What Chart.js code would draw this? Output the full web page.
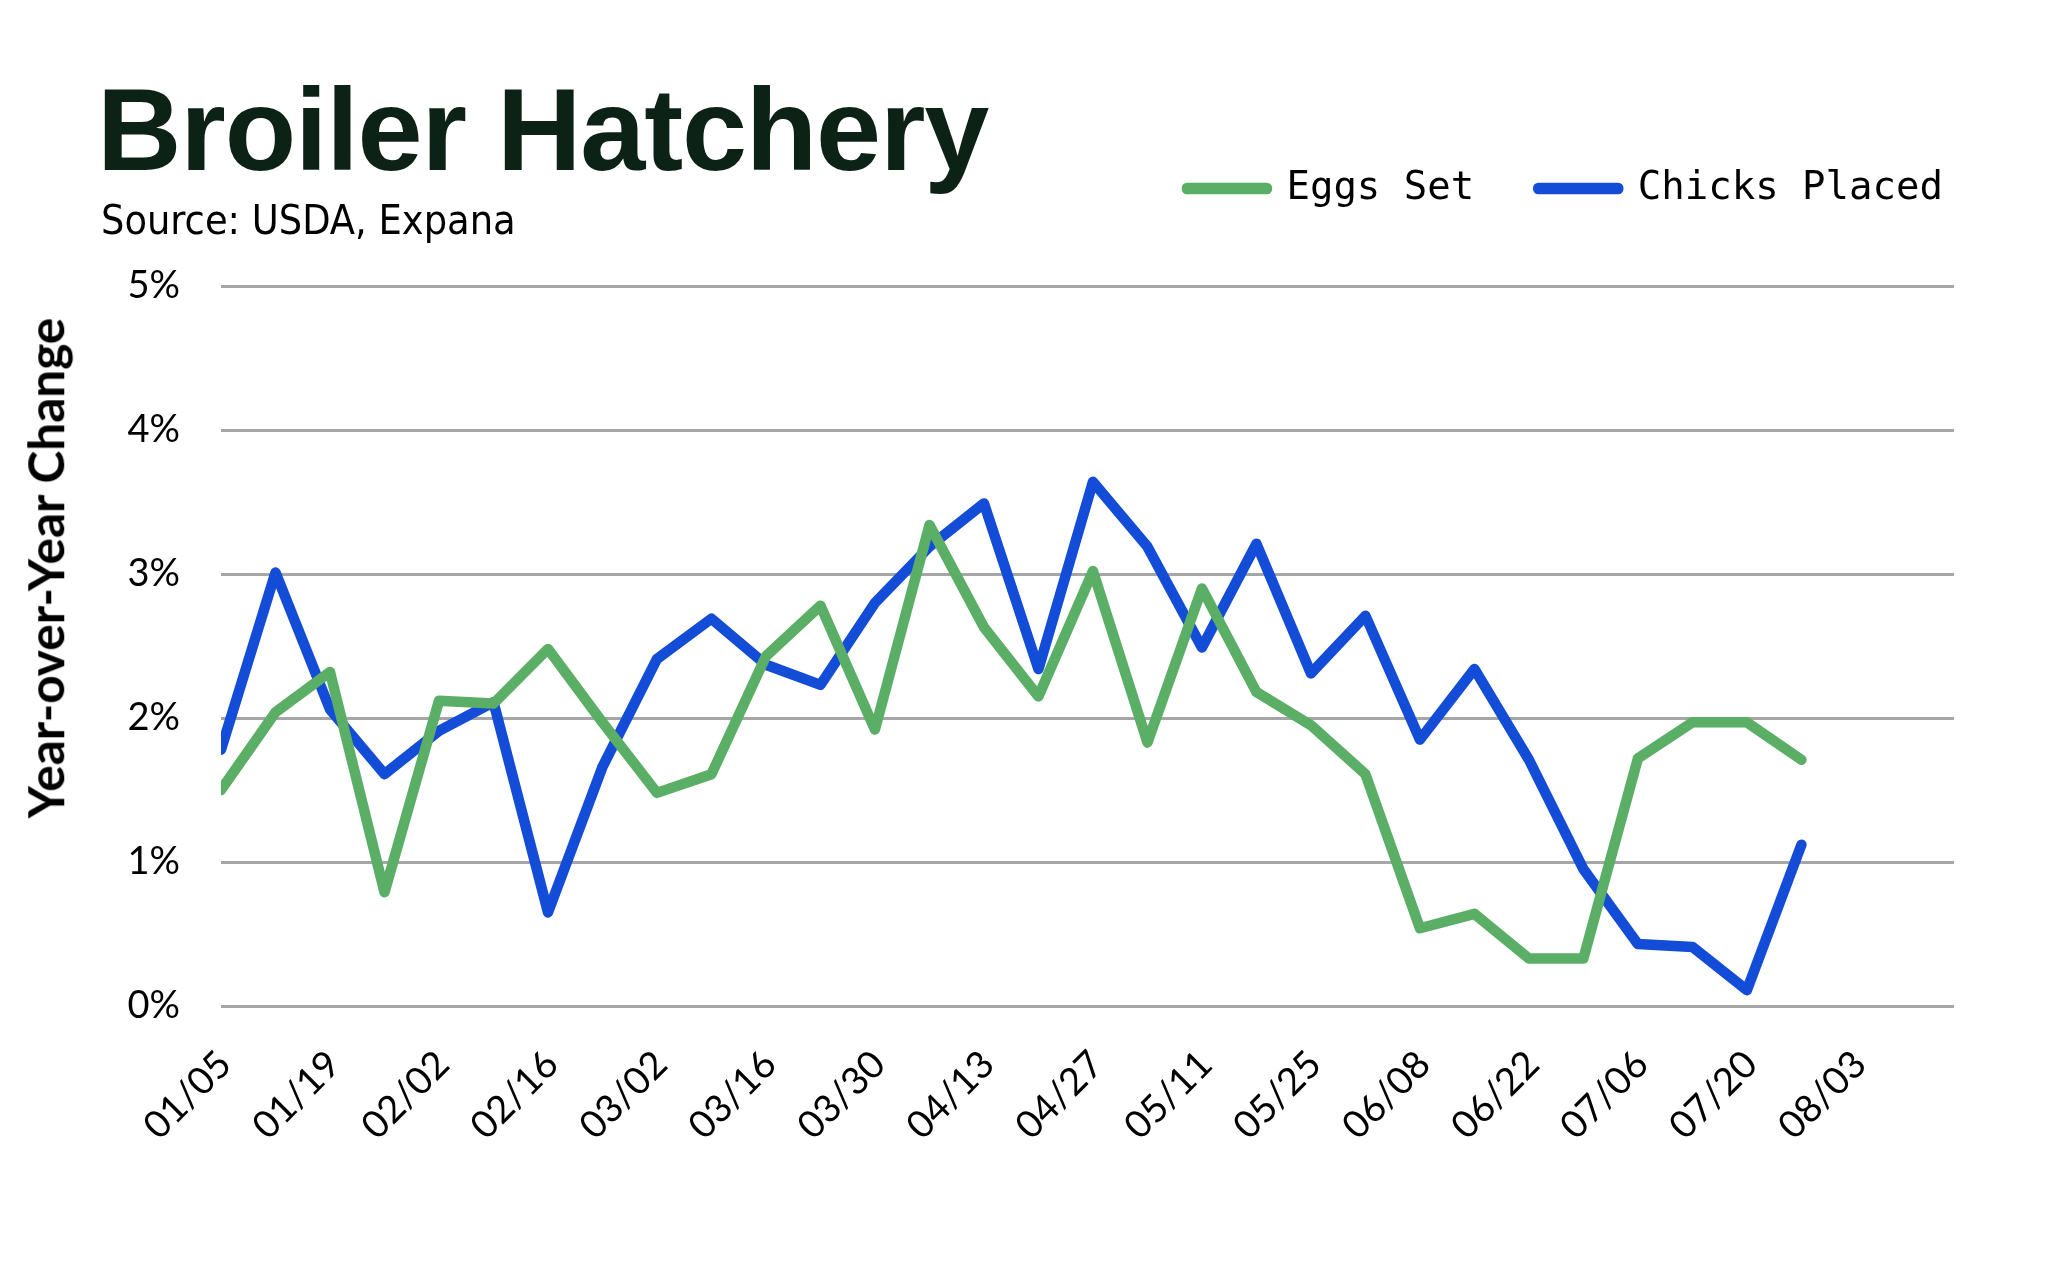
<!DOCTYPE html>
<html>
<head>
<meta charset="utf-8">
<script src="https://cdn.jsdelivr.net/npm/chart.js@4.4.1/dist/chart.umd.min.js"></script>
<style>
  html, body { margin: 0; padding: 0; background: #ffffff; }
  #wrap { position: relative; width: 2050px; height: 1287px; overflow: hidden; background: #fff; }
  #chartBox { position: absolute; left: 0; top: 0; width: 2050px; height: 1287px; }
  #title { position: absolute; left: 97px; top: 71px; font-family: "Liberation Sans", Arial, sans-serif; font-weight: bold; font-size: 117px; line-height: 1; letter-spacing: -1.2px; color: #0d2216; white-space: nowrap; }
  #source { position: absolute; left: 101px; top: 200px; font-family: "DejaVu Sans Condensed", "DejaVu Sans", sans-serif; font-stretch: condensed; font-size: 41px; line-height: 1; color: #000; white-space: nowrap; }
  #ytitle { position: absolute; left: 46px; top: 568px; transform: translate(-50%, -50%) rotate(-90deg); font-family: "Lato", sans-serif; font-weight: bold; font-size: 49.5px; line-height: 1; color: #000; white-space: nowrap; }
</style>
</head>
<body>
<div id="wrap">
  <div id="chartBox"><canvas id="c"></canvas></div>
  <div id="title">Broiler Hatchery</div>
  <div id="source">Source: USDA, Expana</div>
  <div id="ytitle">Year-over-Year Change</div>
</div>
<script>
// Weekly dates (category labels)
const weeks = ["01/05","01/12","01/19","01/26","02/02","02/09","02/16","02/23","03/02","03/09",
  "03/16","03/23","03/30","04/06","04/13","04/20","04/27","05/04","05/11","05/18",
  "05/25","06/01","06/08","06/15","06/22","06/29","07/06","07/13","07/20","07/27","08/03"];

// Year-over-year change, percent
const eggsSet = [1.50, 2.04, 2.32, 0.79, 2.12, 2.10, 2.48, 1.97, 1.48, 1.61,
  2.43, 2.78, 1.92, 3.34, 2.63, 2.15, 3.02, 1.83, 2.90, 2.18,
  1.95, 1.61, 0.54, 0.64, 0.33, 0.33, 1.72, 1.97, 1.97, 1.71];
const chicksPlaced = [1.78, 3.01, 2.06, 1.61, 1.91, 2.11, 0.65, 1.66, 2.41, 2.69,
  2.37, 2.23, 2.80, 3.19, 3.49, 2.34, 3.64, 3.19, 2.49, 3.21,
  2.31, 2.71, 1.85, 2.34, 1.71, 0.95, 0.43, 0.41, 0.11, 1.12];

const yTicks = [0, 1, 2, 3, 4, 5];

const GREEN = "#5aae65";
const BLUE = "#134cd6";
const tickFont = { family: "Lato", size: 38 };

const toPoints = arr => arr.map((v, i) => ({ x: i, y: v }));

new Chart(document.getElementById("c"), {
  type: "line",
  data: {
    datasets: [
      { label: "Eggs Set", data: toPoints(eggsSet), borderColor: GREEN, backgroundColor: GREEN,
        borderWidth: 10.5, pointRadius: 0, tension: 0, borderJoinStyle: "round", borderCapStyle: "round",
        xAxisID: "x", yAxisID: "y" },
      { label: "Chicks Placed", data: toPoints(chicksPlaced), borderColor: BLUE, backgroundColor: BLUE,
        borderWidth: 10.5, pointRadius: 0, tension: 0, borderJoinStyle: "round", borderCapStyle: "round",
        xAxisID: "x", yAxisID: "y" }
    ]
  },
  options: {
    responsive: true,
    maintainAspectRatio: false,
    animation: false,
    devicePixelRatio: 1,
    layout: { padding: { top: 105, right: 43, left: 0, bottom: 0 } },
    plugins: {
      tooltip: { enabled: false },
      title: { display: false },
      legend: {
        display: true, position: "top", align: "end",
        labels: { font: { family: "DejaVu Sans Mono", size: 39 }, color: "#000",
          boxWidth: 80, boxHeight: 1, padding: 64 }
      }
    },
    scales: {
      x: {
        type: "linear", position: "bottom", min: 0, max: 31.8,
        grid: { display: false }, border: { display: false },
        ticks: {
          stepSize: 2, includeBounds: false, autoSkip: false,
          minRotation: 45, maxRotation: 45, padding: 28, labelOffset: 4,
          font: tickFont, color: "#000",
          callback: v => (Number.isInteger(v) && weeks[v] !== undefined) ? weeks[v] : ""
        },
        afterFit: s => { s.height = 281; }
      },
      y: {
        type: "linear", position: "left", min: yTicks[0], max: yTicks[yTicks.length - 1],
        grid: { color: "#a6a6a6", lineWidth: 3, drawTicks: false },
        border: { display: false },
        afterBuildTicks: s => { s.ticks = yTicks.map(v => ({ value: v })); },
        ticks: { padding: 41, font: tickFont, color: "#000", callback: v => v + "%" },
        afterFit: s => { s.width = 221; }
      },
      yR: {
        type: "linear", position: "right", display: true,
        grid: { display: false }, border: { display: false }, ticks: { display: false },
        afterFit: s => { s.width = 53; }
      },
      xT: {
        type: "linear", position: "top", display: true,
        grid: { display: false }, border: { display: false }, ticks: { display: false },
        afterFit: s => { s.height = 68; }
      }
    }
  }
});
</script>
</body>
</html>
